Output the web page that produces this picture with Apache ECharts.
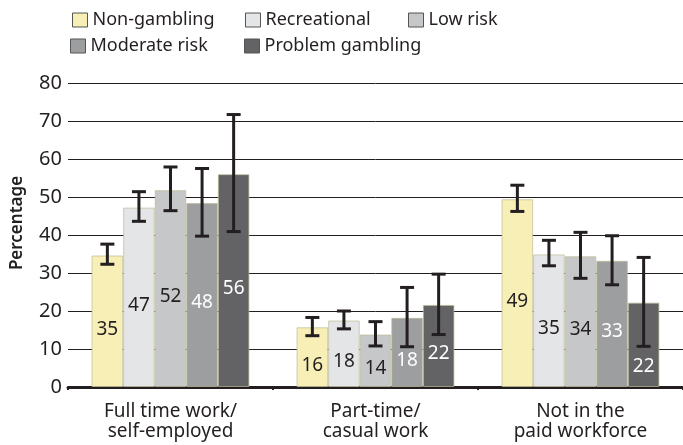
<!DOCTYPE html>
<html>
<head>
<meta charset="utf-8">
<script src="https://cdn.jsdelivr.net/npm/echarts@6/dist/echarts.min.js"></script>
<style>
  html, body { margin: 0; padding: 0; background: #fff; }
  #chart { width: 683px; height: 445px; }
</style>
</head>
<body>
<div id="chart"></div>
<script>
// categories and values
const categories = ["Full time work/\nself-employed", "Part-time/\ncasual work", "Not in the\npaid workforce"];
const seriesNames = ["Non-gambling", "Recreational", "Low risk", "Moderate risk", "Problem gambling"];

const nonGambling = [34.6, 15.7, 49.4];
const recreational = [47.2, 17.5, 34.9];
const lowRisk = [51.8, 13.8, 34.4];
const moderateRisk = [48.4, 18.2, 33.2];
const problemGambling = [56.0, 21.6, 22.2];

// confidence intervals [low, high]
const nonGamblingCI = [[32.3, 37.6], [13.5, 18.3], [46.2, 53.1]];
const recreationalCI = [[43.6, 51.4], [15.3, 20.0], [31.9, 38.6]];
const lowRiskCI = [[46.4, 57.9], [10.8, 17.2], [28.6, 40.7]];
const moderateRiskCI = [[39.7, 57.5], [10.6, 26.2], [26.9, 39.8]];
const problemGamblingCI = [[40.9, 71.7], [13.8, 29.7], [10.7, 34.1]];

const yTicks = [0, 10, 20, 30, 40, 50, 60, 70, 80];

const values = [nonGambling, recreational, lowRisk, moderateRisk, problemGambling];
const cis = [nonGamblingCI, recreationalCI, lowRiskCI, moderateRiskCI, problemGamblingCI];

const colors = ["#f7efb6", "#e4e5e6", "#c6c7c8", "#9d9ea0", "#636365"];
const labelColors = ["#231f20", "#231f20", "#231f20", "#ffffff", "#ffffff"];
const FONT = "Noto Sans";
const CAT_GAP = 0.23;

const chart = echarts.init(document.getElementById("chart"));

function errorBar(idx) {
  return function (params, api) {
    const x = api.value(0);
    const lo = api.coord([x, api.value(1)]);
    const hi = api.coord([x, api.value(2)]);
    const band = api.size([1, 0])[0];
    const bw = band * (1 - CAT_GAP) / 5;
    const cx = lo[0] + (idx - 2) * bw;
    const cap = 7;
    const style = { stroke: "#231f20", lineWidth: 3 };
    return {
      type: "group",
      children: [
        { type: "line", shape: { x1: cx, y1: lo[1], x2: cx, y2: hi[1] }, style: style },
        { type: "line", shape: { x1: cx - cap, y1: lo[1], x2: cx + cap, y2: lo[1] }, style: style },
        { type: "line", shape: { x1: cx - cap, y1: hi[1], x2: cx + cap, y2: hi[1] }, style: style },
      ],
    };
  };
}

const legendPos = [
  { left: 67, top: 6 },
  { left: 240, top: 6 },
  { left: 403, top: 6 },
  { left: 65, top: 32 },
  { left: 239, top: 32 },
];

const series = [];
values.forEach((vals, i) => {
  series.push({
    name: seriesNames[i],
    type: "bar",
    barGap: "0%",
    barCategoryGap: (CAT_GAP * 100) + "%",
    itemStyle: { color: colors[i], borderColor: "rgba(190,185,150,0.7)", borderWidth: 1 },
    label: {
      show: true,
      position: "inside",
      offset: [0, 8],
      color: labelColors[i],
      fontFamily: FONT,
      fontSize: 19,
      formatter: (p) => Math.round(p.value),
    },
    data: vals.map((v, j) =>
      i === 4 && j === 2 ? { value: v, label: { offset: [0, 22] } } : v
    ),
  });
});
cis.forEach((ci, i) => {
  series.push({
    name: seriesNames[i] + " CI",
    type: "custom",
    renderItem: errorBar(i),
    encode: { x: 0, y: [1, 2] },
    z: 10,
    silent: true,
    data: ci.map((c, j) => [j, c[0], c[1]]),
  });
});

const option = {
  animation: false,
  textStyle: { fontFamily: FONT },
  legend: seriesNames.map((n, i) => ({
    data: [n],
    left: legendPos[i].left,
    top: legendPos[i].top,
    itemWidth: 15,
    itemHeight: 14,
    icon: "rect",
    itemStyle: { borderColor: "#555", borderWidth: 1 },
    textStyle: { fontFamily: FONT, fontSize: 18, color: "#231f20" },
    selectedMode: false,
  })),
  grid: { left: 68, right: 0, top: 83, bottom: 58, outerBoundsMode: "none" },
  xAxis: {
    type: "category",
    data: categories,
    axisLine: { show: true, lineStyle: { color: "#231f20", width: 3 } },
    axisTick: { show: true, length: 3, lineStyle: { color: "#231f20", width: 2 } },
    axisLabel: {
      fontFamily: FONT,
      fontSize: 19,
      color: "#231f20",
      lineHeight: 20,
      margin: 15,
    },
  },
  yAxis: {
    type: "value",
    min: yTicks[0],
    max: yTicks[yTicks.length - 1],
    interval: 10,
    name: "Percentage",
    nameLocation: "middle",
    nameGap: 42,
    nameRotate: 90,
    nameTextStyle: {
      fontFamily: FONT, fontSize: 17, fontWeight: 600, color: "#231f20",
      padding: [0, 0, 0, 24],
    },
    axisLine: { show: false },
    axisTick: { show: false },
    axisLabel: { fontFamily: FONT, fontSize: 20, color: "#231f20", margin: 6 },
    splitLine: { show: true, lineStyle: { color: "#231f20", width: 1 } },
  },
  series: series,
};

chart.setOption(option);
</script>
</body>
</html>
